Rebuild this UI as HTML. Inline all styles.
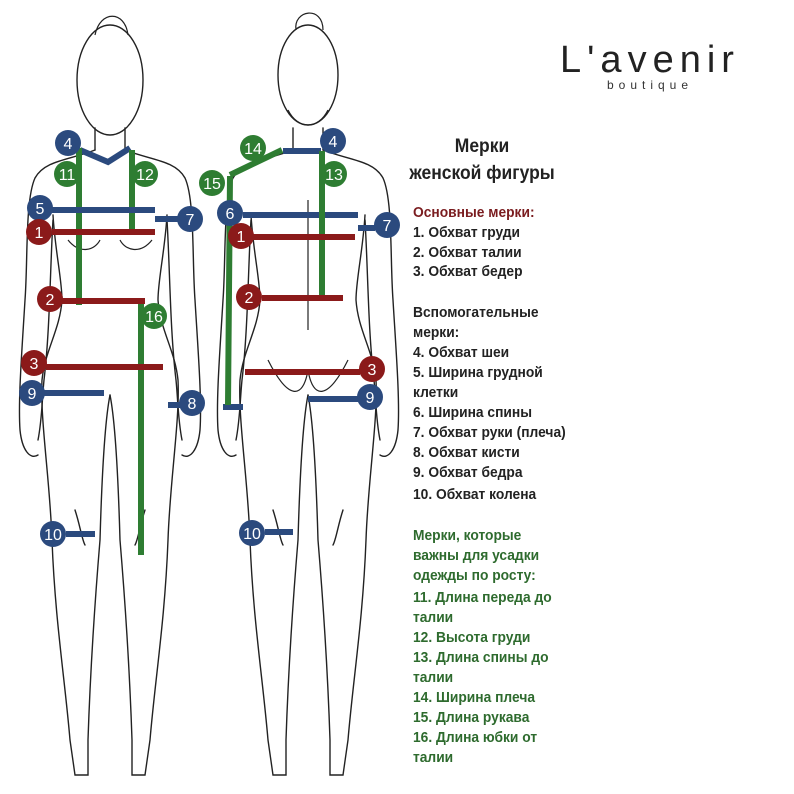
<!DOCTYPE html>
<html><head><meta charset="utf-8"><style>
html,body{margin:0;padding:0;background:#fff;}
svg{display:block}
.t{font-family:"Liberation Sans Narrow","Liberation Sans",sans-serif;font-weight:bold;font-size:15px;fill:#222}
.r{fill:#7a1c1f}.g{fill:#2e6b2e}
.n{font-family:"Liberation Sans Narrow","Liberation Sans",sans-serif;font-size:16px;fill:#fff;text-anchor:middle}
</style></head><body>
<svg width="794" height="794" viewBox="0 0 794 794" xmlns="http://www.w3.org/2000/svg">
<defs>
<g id="h" fill="none" stroke="#222" stroke-width="1.4" stroke-linecap="round">
<path d="M-15,128 L-15,150"/>
<path d="M-15,150 C-40,160 -65,160 -75,178 C-85,200 -82,260 -85,300 C-88,350 -92,400 -90,430 C-88,450 -80,460 -72,455"/>
<path d="M-57,220 C-60,270 -60,330 -66,380 C-68,400 -68,420 -72,440"/>
<path d="M-57,215 C-55,250 -48,280 -48,300 C-50,330 -65,350 -68,380 C-70,420 -60,480 -58,540 C-55,620 -45,680 -40,740 L-35,775 L-22,775 L-22,740 C-20,680 -15,600 -10,540 C-8,470 -5,420 0,395"/>
<path d="M-35,510 C-30,525 -28,540 -25,545"/>
</g>
</defs>
<g transform="translate(110,0)">
<use href="#h"/><use href="#h" transform="scale(-1,1)"/>
<ellipse cx="0" cy="80" rx="33" ry="55" fill="none" stroke="#222" stroke-width="1.4"/>
<path d="M-15,35 C-10,10 15,10 18,35" fill="none" stroke="#222" stroke-width="1.2"/>
<path d="M-42,240 C-30,255 -15,250 -10,240 M42,240 C30,255 15,250 10,240" fill="none" stroke="#222" stroke-width="1.2"/>
</g>
<g transform="translate(308,0)">
<use href="#h"/><use href="#h" transform="scale(-1,1)"/>
<ellipse cx="0" cy="75" rx="30" ry="50" fill="none" stroke="#222" stroke-width="1.4"/>
<path d="M-12,30 C-15,10 15,5 15,30 M-20,110 C-10,130 10,130 20,110" fill="none" stroke="#222" stroke-width="1.2"/>
<path d="M0,200 L0,330 M-40,360 C-20,400 -5,400 0,370 C5,400 20,400 40,360" fill="none" stroke="#222" stroke-width="1.2"/>
</g>
<g stroke-width="6" fill="none" stroke-linecap="butt">
<path d="M80,150 L108,162 L130,148" stroke="#2b4a7e"/>
<path d="M79,148 V305 M132,150 V230 M141,300 V555" stroke="#2e7d32"/>
<path d="M52,210 H155 M155,219 H178 M44,393 H104 M168,405 H180 M66,534 H95" stroke="#2b4a7e"/>
<path d="M52,232 H155 M62,301 H145 M46,367 H163" stroke="#8b1a1a"/>
<path d="M283,151 H321 M243,215 H358 M358,228 H375 M308,399 H358 M223,407 H243 M265,532 H293" stroke="#2b4a7e"/>
<path d="M322,151 V300 M230,175 L282,150 M230,176 L228,405" stroke="#2e7d32"/>
<path d="M253,237 H355 M262,298 H343 M245,372 H360" stroke="#8b1a1a"/>
</g>
<g>
<circle cx="68" cy="143" r="13" fill="#2b4a7e"/><text class="n" x="68" y="149">4</text>
<circle cx="67" cy="174" r="13" fill="#2e7d32"/><text class="n" x="67" y="180">11</text>
<circle cx="145" cy="174" r="13" fill="#2e7d32"/><text class="n" x="145" y="180">12</text>
<circle cx="40" cy="208" r="13" fill="#2b4a7e"/><text class="n" x="40" y="214">5</text>
<circle cx="190" cy="219" r="13" fill="#2b4a7e"/><text class="n" x="190" y="225">7</text>
<circle cx="39" cy="232" r="13" fill="#8b1a1a"/><text class="n" x="39" y="238">1</text>
<circle cx="50" cy="299" r="13" fill="#8b1a1a"/><text class="n" x="50" y="305">2</text>
<circle cx="154" cy="316" r="13" fill="#2e7d32"/><text class="n" x="154" y="322">16</text>
<circle cx="34" cy="363" r="13" fill="#8b1a1a"/><text class="n" x="34" y="369">3</text>
<circle cx="32" cy="393" r="13" fill="#2b4a7e"/><text class="n" x="32" y="399">9</text>
<circle cx="192" cy="403" r="13" fill="#2b4a7e"/><text class="n" x="192" y="409">8</text>
<circle cx="53" cy="534" r="13" fill="#2b4a7e"/><text class="n" x="53" y="540">10</text>
<circle cx="253" cy="148" r="13" fill="#2e7d32"/><text class="n" x="253" y="154">14</text>
<circle cx="333" cy="141" r="13" fill="#2b4a7e"/><text class="n" x="333" y="147">4</text>
<circle cx="334" cy="174" r="13" fill="#2e7d32"/><text class="n" x="334" y="180">13</text>
<circle cx="212" cy="183" r="13" fill="#2e7d32"/><text class="n" x="212" y="189">15</text>
<circle cx="230" cy="213" r="13" fill="#2b4a7e"/><text class="n" x="230" y="219">6</text>
<circle cx="387" cy="225" r="13" fill="#2b4a7e"/><text class="n" x="387" y="231">7</text>
<circle cx="241" cy="236" r="13" fill="#8b1a1a"/><text class="n" x="241" y="242">1</text>
<circle cx="249" cy="297" r="13" fill="#8b1a1a"/><text class="n" x="249" y="303">2</text>
<circle cx="372" cy="369" r="13" fill="#8b1a1a"/><text class="n" x="372" y="375">3</text>
<circle cx="370" cy="397" r="13" fill="#2b4a7e"/><text class="n" x="370" y="403">9</text>
<circle cx="252" cy="533" r="13" fill="#2b4a7e"/><text class="n" x="252" y="539">10</text>
</g>
<text x="650" y="72" text-anchor="middle" font-family="Liberation Sans, sans-serif" font-size="38" letter-spacing="6" fill="#222">L'avenir</text>
<text x="650" y="89" text-anchor="middle" font-family="Liberation Sans, sans-serif" font-size="12" letter-spacing="5" fill="#333">boutique</text>
<g transform="translate(413,0) scale(0.92,1)">
<text class="t" x="75" y="152" text-anchor="middle" style="font-size:19px">Мерки</text>
<text class="t" x="75" y="179" text-anchor="middle" style="font-size:19px">женской фигуры</text>
<text class="t r" x="0" y="217">Основные мерки:</text>
<text class="t" x="0" y="237">1. Обхват груди</text>
<text class="t" x="0" y="257">2. Обхват талии</text>
<text class="t" x="0" y="276">3. Обхват бедер</text>
<text class="t" x="0" y="317">Вспомогательные</text>
<text class="t" x="0" y="337">мерки:</text>
<text class="t" x="0" y="357">4. Обхват шеи</text>
<text class="t" x="0" y="377">5. Ширина грудной</text>
<text class="t" x="0" y="397">клетки</text>
<text class="t" x="0" y="417">6. Ширина спины</text>
<text class="t" x="0" y="437">7. Обхват руки (плеча)</text>
<text class="t" x="0" y="457">8. Обхват кисти</text>
<text class="t" x="0" y="477">9. Обхват бедра</text>
<text class="t" x="0" y="499">10. Обхват колена</text>
<text class="t g" x="0" y="540">Мерки, которые</text>
<text class="t g" x="0" y="560">важны для усадки</text>
<text class="t g" x="0" y="580">одежды по росту:</text>
<text class="t g" x="0" y="602">11. Длина переда до</text>
<text class="t g" x="0" y="622">талии</text>
<text class="t g" x="0" y="642">12. Высота груди</text>
<text class="t g" x="0" y="662">13. Длина спины до</text>
<text class="t g" x="0" y="682">талии</text>
<text class="t g" x="0" y="702">14. Ширина плеча</text>
<text class="t g" x="0" y="722">15. Длина рукава</text>
<text class="t g" x="0" y="742">16. Длина юбки от</text>
<text class="t g" x="0" y="762">талии</text>
</g>
</svg>
</body></html>
